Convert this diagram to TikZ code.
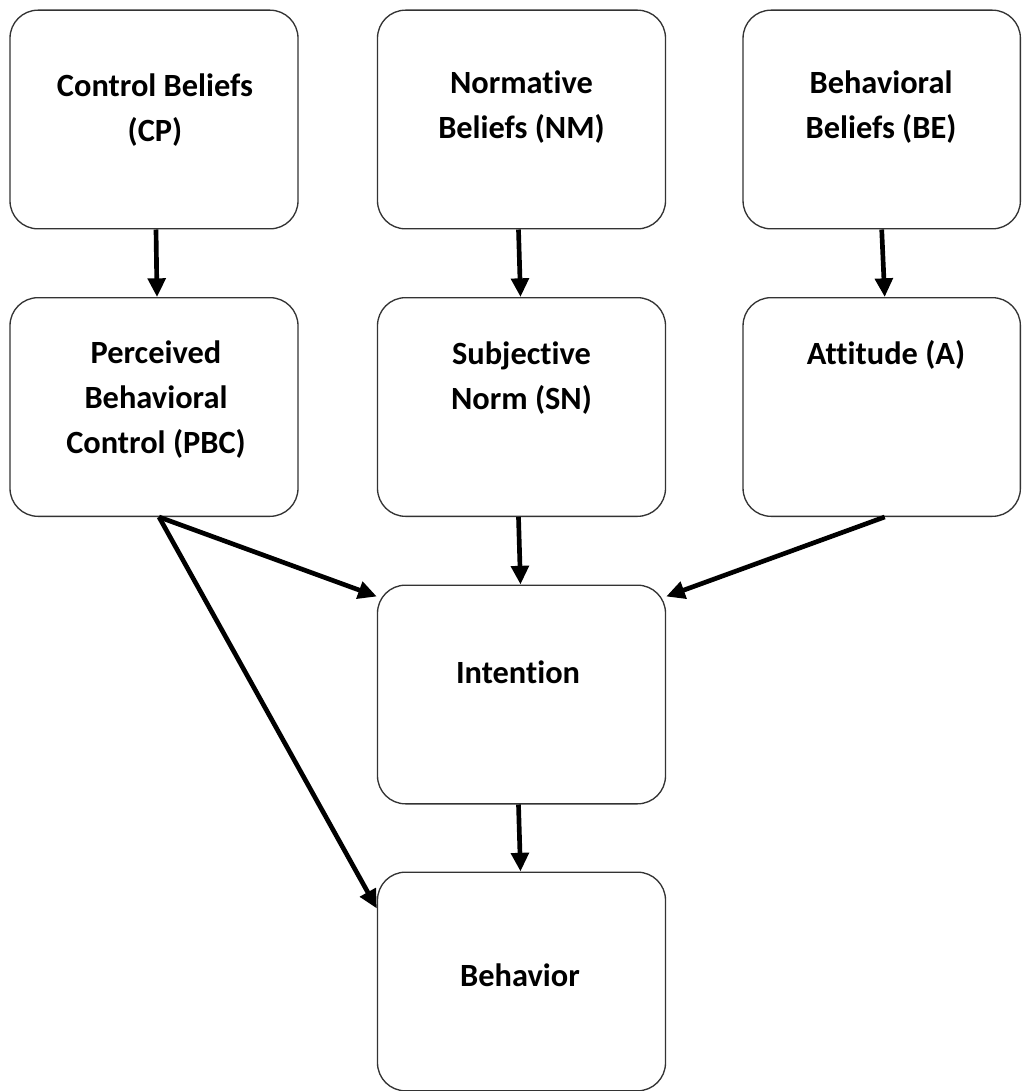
\documentclass[tikz,border=0pt]{standalone}
\usepackage{fontspec}
\setmainfont[Ligatures=NoCommon]{Carlito}
\usetikzlibrary{arrows.meta,calc}
\begin{document}
\begin{tikzpicture}[x=0.75pt,y=-0.75pt,
  box/.style={draw=black!80,line width=1pt,rounded corners=21pt,minimum width=216pt,minimum height=164pt,inner sep=0pt},
  lbl/.style={font=\fontsize{24.3}{33.75}\selectfont\bfseries,align=center,inner sep=0pt},
  arr/.style={line width=3.5pt,-{Triangle[length=14pt,width=13pt]}}]
\useasboundingbox (0,0) rectangle (1021,1091);
% boxes
\node[box] (cb) at (154,119.5) {};
\node[box] (nb) at (521.5,119.5) {};
\node[box,minimum width=208pt] (bb) at (881.7,119.5) {};
\node[box] (pbc) at (154,407) {};
\node[box] (sn) at (521.5,407) {};
\node[box,minimum width=208pt] (att) at (881.7,407) {};
\node[box] (int) at (521.5,694.5) {};
\node[box] (beh) at (521.5,981.5) {};
% labels
\node[lbl] (tcb) at (155,110) {Control Beliefs\\(CP)};
\node[lbl] (tnb) at (521.5,107) {Normative\\Beliefs (NM)};
\node[lbl] (tbb) at (881,107) {Behavioral\\Beliefs (BE)};
\node[lbl] (tpbc) at (156,400) {Perceived\\Behavioral\\Control (PBC)};
\node[lbl] (tsn) at (521.5,378) {Subjective\\Norm (SN)};
\node[lbl] (tatt) at (886,355) {Attitude (A)};
\node[lbl] (tint) at (518,672) {Intention};
\node[lbl] (tbeh) at (520,975) {Behavior};
% connectors
\draw[arr] ($(cb.south)+(2,0)$) -- ($(pbc.north)+(3,0)$);
\draw[arr] ($(nb.south)+(-3,0)$) -- ($(sn.north)+(-1,0)$);
\draw[arr] ($(bb.south)+(0,0)$) -- ($(att.north)+(3,0)$);
\draw[arr] ($(pbc.south)+(5,0)$) -- ($(int.north west)+(0,12)$);
\draw[arr] ($(pbc.south)+(5,0)$) -- ($(beh.north west)+(0,37)$);
\draw[arr] ($(sn.south)+(-3,0)$) -- ($(int.north)+(-1,0)$);
\draw[arr] ($(att.south)+(3,0)$) -- ($(int.north east)+(0,12)$);
\draw[arr] ($(int.south)+(-3,0)$) -- ($(beh.north)+(-1,0)$);
\end{tikzpicture}
\end{document}
